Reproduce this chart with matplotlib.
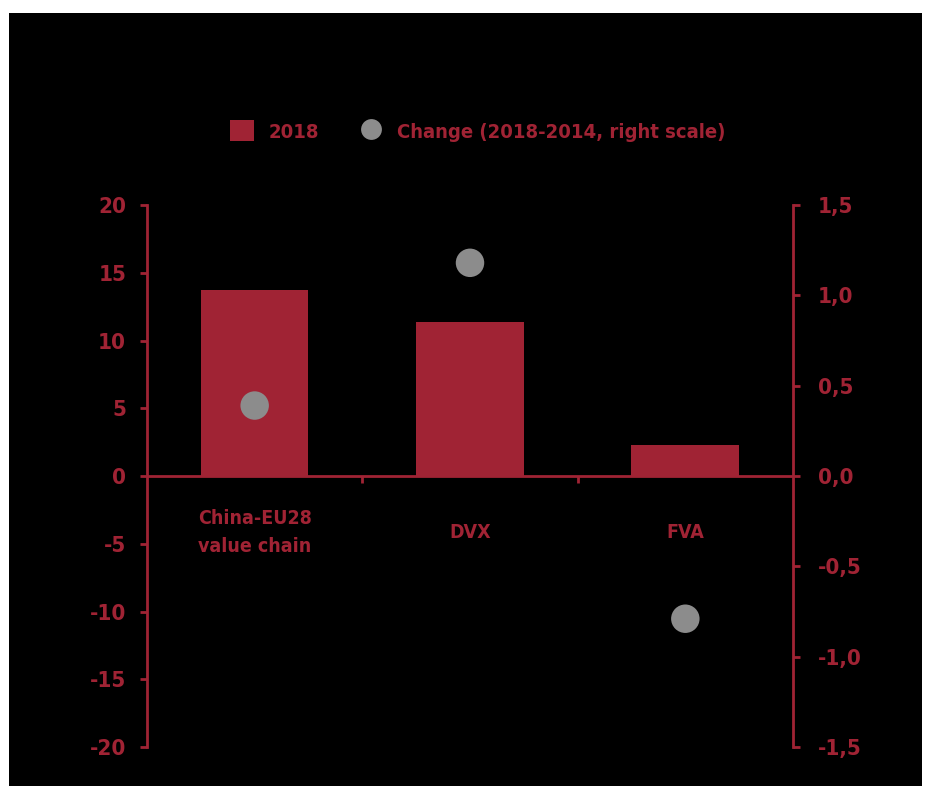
import matplotlib
matplotlib.use("Agg")
import matplotlib.pyplot as plt
from matplotlib.patches import Patch, Rectangle
from matplotlib.lines import Line2D
from matplotlib.ticker import FuncFormatter
from matplotlib.font_manager import FontProperties

categories = ["China-EU28\nvalue chain", "DVX", "FVA"]
values_2018 = [13.7, 11.4, 2.3]
change_18_14 = [0.39, 1.18, -0.79]
left_ticks = [-20, -15, -10, -5, 0, 5, 10, 15, 20]
right_ticks = [-1.5, -1.0, -0.5, 0.0, 0.5, 1.0, 1.5]

RED = "#a02334"
GREY = "#8c8c8c"
FONT = dict(family="DejaVu Sans", stretch="condensed", weight="bold")

fig = plt.figure(figsize=(9.28, 7.9), dpi=100, facecolor="white")
fig.patches.append(Rectangle((9 / 928, 1 - 786 / 790), (922 - 9) / 928, (786 - 13) / 790,
                             transform=fig.transFigure, facecolor="black", edgecolor="none", zorder=-10))

ax = fig.add_axes([147 / 928, 1 - 747 / 790, (793 - 147) / 928, (747 - 205) / 790])
ax.patch.set_alpha(0)
x = list(range(len(categories)))
ax.bar(x, values_2018, width=0.5, color=RED, zorder=2)
ax.set_xlim(-0.5, 2.5)
ax.set_ylim(-20, 20)
ax.set_yticks(left_ticks)
ax.yaxis.set_major_formatter(FuncFormatter(lambda v, p: f"{v:.0f}"))

for s in ["top", "right"]:
    ax.spines[s].set_visible(False)
ax.spines["left"].set_color(RED)
ax.spines["left"].set_linewidth(2)
ax.spines["bottom"].set_position(("data", 0))
ax.spines["bottom"].set_color(RED)
ax.spines["bottom"].set_linewidth(2)
ax.set_xticks([0.5, 1.5])
ax.set_xticklabels([])
ax.tick_params(axis="x", colors=RED, width=2, length=5, direction="out")
ax.tick_params(axis="y", colors=RED, width=2, length=5, direction="out", pad=10)
for lab in ax.get_yticklabels():
    lab.set_fontproperties(FontProperties(size=16, **FONT))

for xi, cat in zip(x, categories):
    ax.text(xi, -4.2, cat, ha="center", va="center", color=RED, fontsize=14,
            linespacing=1.6, **FONT)

ax2 = ax.twinx()
ax2.set_ylim(-1.5, 1.5)
ax2.set_yticks(right_ticks)
ax2.yaxis.set_major_formatter(FuncFormatter(lambda v, p: f"{v:.1f}".replace(".", ",")))
for s in ["top", "left", "bottom"]:
    ax2.spines[s].set_visible(False)
ax2.spines["right"].set_color(RED)
ax2.spines["right"].set_linewidth(2)
ax2.tick_params(axis="y", colors=RED, width=2, length=5, direction="out", pad=13)
for lab in ax2.get_yticklabels():
    lab.set_fontproperties(FontProperties(size=16, **FONT))
ax2.scatter(x, change_18_14, s=420, color=GREY, zorder=3, edgecolors="none")

handles = [Patch(facecolor=RED, edgecolor="none"),
           Line2D([], [], marker="o", linestyle="none", markersize=15,
                  markerfacecolor=GREY, markeredgecolor="none")]
leg = fig.legend(handles, ["2018", "Change (2018-2014, right scale)"], loc="center",
                 bbox_to_anchor=(478 / 928, 1 - 131 / 790), ncol=2, frameon=False,
                 handlelength=1.2, handleheight=1.2, columnspacing=2.0, handletextpad=0.7,
                 prop=FontProperties(size=14.5, **FONT))
for t in leg.get_texts():
    t.set_color(RED)

fig.savefig("out.png", dpi=100, facecolor=fig.get_facecolor())
